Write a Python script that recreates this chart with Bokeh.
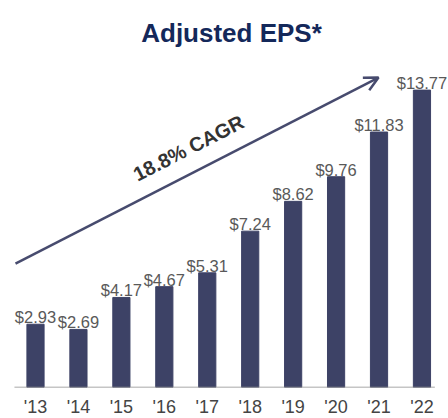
from bokeh.plotting import figure
from bokeh.models import ColumnDataSource, Range1d, FixedTicker, Arrow, OpenHead
from bokeh.core.properties import value
from bokeh.embed import file_html
from bokeh.resources import INLINE

years = ["'13", "'14", "'15", "'16", "'17", "'18", "'19", "'20", "'21", "'22"]
eps = [2.93, 2.69, 4.17, 4.67, 5.31, 7.24, 8.62, 9.76, 11.83, 13.77]
labels = ["$2.93", "$2.69", "$4.17", "$4.67", "$5.31", "$7.24", "$8.62", "$9.76", "$11.83", "$13.77"]
title_text = "Adjusted EPS*"
cagr_text = "18.8% CAGR"

FONT = "Liberation Sans"
xs = list(range(len(years)))
src = ColumnDataSource(dict(x=xs, top=eps, label=labels))

p = figure(frame_width=448, frame_height=387, output_backend="svg", toolbar_location=None,
           x_range=Range1d(-0.815, 9.618), y_range=Range1d(0, 17.92),
           min_border_left=0, min_border_right=0, min_border_top=0, min_border_bottom=0)
p.outline_line_color = None
p.grid.visible = False
p.yaxis.visible = False
p.background_fill_color = "white"

xa = p.xaxis[0]
xa.ticker = FixedTicker(ticks=xs)
xa.major_label_overrides = {i: y for i, y in enumerate(years)}
xa.axis_line_color = None
xa.major_tick_line_color = None
xa.minor_tick_line_color = None
xa.major_label_text_font = FONT
xa.major_label_text_font_size = "18px"
xa.major_label_text_color = "#444444"
xa.major_label_standoff = 3

p.vbar(x="x", top="top", width=0.40, bottom=0, source=src, color="#3d4266")

# baseline
p.segment(x0=[-0.49], y0=[0], x1=[len(years) - 0.7], y1=[0], line_color="#8c8c8c", line_width=1.5)

p.text(x="x", y="top", text="label", source=src, text_align="center", text_baseline="alphabetic",
       y_offset=-7, text_font=value(FONT), text_font_size="16.5px", text_color="#595959")

p.text(x=[4.565], y=[16.435], text=[title_text], text_align="center", text_baseline="alphabetic",
       text_font=value(FONT), text_font_size="26px", text_font_style="bold", text_color="#14285a")

p.add_layout(Arrow(end=OpenHead(size=14, line_color="#474b6e", line_width=2.5),
                   x_start=-0.466, y_start=5.74, x_end=7.988, y_end=14.35,
                   line_color="#474b6e", line_width=2.5))

p.text(x=[3.563], y=[11.09], text=[cagr_text], angle=27, angle_units="deg", text_align="center",
       text_baseline="middle", text_font=value(FONT), text_font_size="20px", text_font_style="bold",
       text_color="#333333")

open("out.html", "w").write(file_html(p, INLINE))
